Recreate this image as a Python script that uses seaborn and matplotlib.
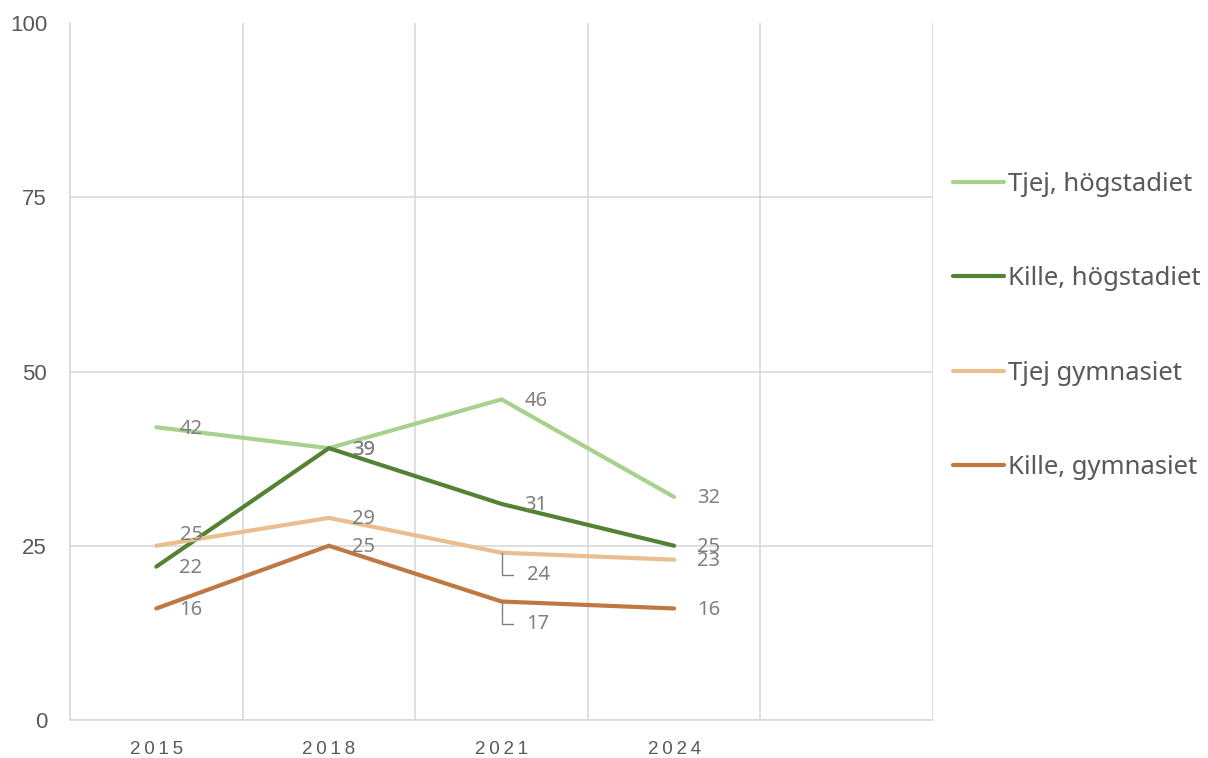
import matplotlib
matplotlib.use("Agg")
import matplotlib.pyplot as plt
from matplotlib.ticker import FixedLocator, FuncFormatter
import seaborn as sns
import pandas as pd

# Survey results per year and group (percent)
years = ["2015", "2018", "2021", "2024"]
tjej_hogstadiet = [42, 39, 46, 32]
kille_hogstadiet = [22, 39, 31, 25]
tjej_gymnasiet = [25, 29, 24, 23]
kille_gymnasiet = [16, 25, 17, 16]

series_names = ["Tjej, högstadiet", "Kille, högstadiet", "Tjej gymnasiet", "Kille, gymnasiet"]
series_values = [tjej_hogstadiet, kille_hogstadiet, tjej_gymnasiet, kille_gymnasiet]
colors = ["#A9D18E", "#548235", "#EBBE90", "#BF7841"]

rows = []
for name, vals in zip(series_names, series_values):
    for i, (yr, v) in enumerate(zip(years, vals)):
        rows.append({"pos": i, "year": yr, "value": v, "group": name})
df = pd.DataFrame(rows)

sns.set_theme(style="white")
plt.rcParams["font.family"] = ["Liberation Sans", "DejaVu Sans"]

fig = plt.figure(figsize=(12.08, 7.58), dpi=100)
ax = fig.add_axes([70 / 1208, 1 - 720 / 758, (933 - 70) / 1208, (720 - 23) / 758])

grid_c = "#D9D9D9"
text_c = "#595959"
label_c = "#808080"
label_font = ["Noto Sans", "DejaVu Sans"]

sns.lineplot(data=df, x="pos", y="value", hue="group", hue_order=series_names,
             palette=colors, linewidth=3.0, ax=ax, legend=False,
             solid_capstyle="round", solid_joinstyle="miter")

ax.set_xlim(-0.5, 4.5)
ax.set_ylim(0, 100)
ax.set_xlabel("")
ax.set_ylabel("")

# Category axis: labels in the slot centres, boundaries as grid lines
ax.xaxis.set_major_locator(FixedLocator(range(len(years))))
ax.xaxis.set_major_formatter(FuncFormatter(
    lambda v, p: "\u2009".join(years[int(round(v))]) if 0 <= round(v) < len(years) else ""))
ax.xaxis.set_minor_locator(FixedLocator([i - 0.5 for i in range(6)]))
ax.tick_params(axis="x", which="major", length=0, pad=15, labelsize=13.5, labelcolor=text_c)
ax.tick_params(axis="x", which="minor", length=6, width=1.2, color=grid_c, direction="out")
ax.grid(False)
ax.xaxis.grid(True, which="minor", color=grid_c, linewidth=1.2)

ax.set_yticks([0, 25, 50, 75, 100])
ax.tick_params(axis="y", which="major", length=12, width=1.2, color=grid_c,
               direction="inout", pad=10.5, labelsize=16, labelcolor=text_c)
ax.yaxis.grid(True, which="major", color=grid_c, linewidth=1.2)
ax.yaxis.get_gridlines()[-1].set_visible(False)

for s in ["top", "right"]:
    ax.spines[s].set_visible(False)
for s in ["left", "bottom"]:
    ax.spines[s].set_color(grid_c)
    ax.spines[s].set_linewidth(1.2)

# Data labels, to the right of each point
label_offsets = {
    (2, 0): (17, 8),
}
leader_labels = {(2, 2), (3, 2)}
for si, vals in enumerate(series_values):
    for i, v in enumerate(vals):
        if (si, i) in leader_labels:
            ax.annotate(str(v), xy=(i, v), xytext=(18, -16), textcoords="offset points",
                        ha="left", va="center", fontsize=14.5, color=label_c,
                        family=label_font,
                        arrowprops=dict(arrowstyle="-", color=label_c, linewidth=1.0,
                                        connectionstyle="angle,angleA=0,angleB=90,rad=0",
                                        shrinkA=7, shrinkB=0, relpos=(0, 0.5)))
        else:
            dx, dy = label_offsets.get((si, i), (16.5, -1))
            ax.annotate(str(v), xy=(i, v), xytext=(dx, dy), textcoords="offset points",
                        ha="left", va="center", fontsize=14.5, color=label_c,
                        family=label_font)

# Legend on the right
handles = [plt.Line2D([], [], color=c, linewidth=3.0, solid_capstyle="round") for c in colors]
leg = fig.legend(handles, series_names, loc="center left",
                 bbox_to_anchor=(953 / 1208, 1 - 326 / 758), frameon=False,
                 borderpad=0, borderaxespad=0, handlelength=2.0, handletextpad=0.16,
                 labelspacing=2.7, prop={"family": label_font, "size": 18.5})
for t in leg.get_texts():
    t.set_color(text_c)

fig.savefig("out.png", dpi=100, facecolor="white")
